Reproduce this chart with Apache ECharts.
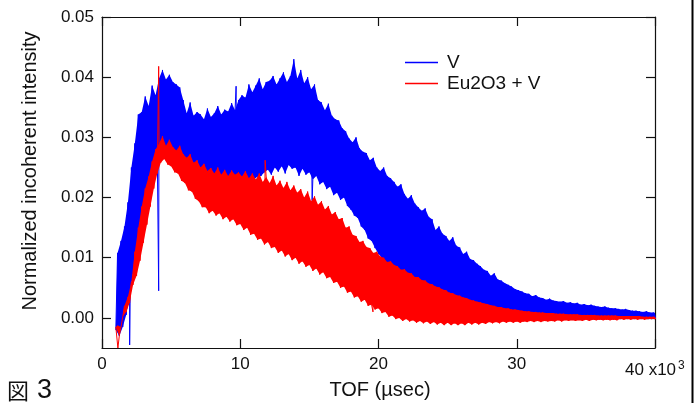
<!DOCTYPE html>
<html><head><meta charset="utf-8">
<script src="https://cdn.jsdelivr.net/npm/echarts@6/dist/echarts.min.js"></script>
<style>html,body{margin:0;padding:0;background:#fff}#c{width:696px;height:403px}</style>
</head><body><div id="c"></div>
<script>
// TOF in units of 10^3 usec; envelope samples every 0.25 (x10^3) starting at 1.0
const xStart = 1.0, xStep = 0.25;
const vUpper = [
0.0108,0.0128,0.0152,0.0192, 0.0250,0.0290,0.0338,0.0342, 0.0368,0.0352,0.0386,0.0370,
0.0398,0.0412,0.0396,0.0404, 0.0392,0.0388,0.0383,0.0362, 0.0340,0.0358,0.0336,0.0342,
0.0338,0.0330,0.0348,0.0334, 0.0340,0.0352,0.0338,0.0346, 0.0343,0.0357,0.0345,0.0362,
0.0370,0.0366,0.0388,0.0375, 0.0386,0.0398,0.0380,0.0392, 0.0394,0.0402,0.0388,0.0398,
0.0408,0.0392,0.0402,0.0430, 0.0398,0.0412,0.0390,0.0400, 0.0380,0.0388,0.0362,0.0358,
0.0345,0.0356,0.0336,0.0330, 0.0328,0.0315,0.0310,0.0298, 0.0292,0.0300,0.0282,0.0276,
0.0274,0.0262,0.0266,0.0250, 0.0244,0.0250,0.0236,0.0232, 0.0226,0.0218,0.0222,0.0206,
0.0198,0.0204,0.0190,0.0184, 0.0178,0.0182,0.0168,0.0164, 0.0146,0.0152,0.0140,0.0136,
0.0128,0.0134,0.0120,0.0117, 0.0106,0.0110,0.0098,0.0096, 0.0090,0.0086,0.0080,0.0078,
0.0070,0.0074,0.0064,0.0062, 0.0058,0.0055,0.0052,0.0048, 0.0046,0.0044,0.0041,0.0040,
0.0036,0.0038,0.0034,0.0033, 0.0030,0.0032,0.0029,0.0028, 0.0027,0.0028,0.0025,0.0026,
0.0024,0.0025,0.0022,0.0023, 0.0021,0.0022,0.0020,0.0019, 0.0018,0.0019,0.0017,0.0016,
0.0016,0.0015,0.0014,0.0015, 0.0013,0.0012,0.0012,0.0011, 0.0010,0.0011,0.0009,0.0009,
0.0008
];
const vLower = [
-0.0020,-0.0030,-0.0015,0.0005, 0.0035,0.0075,0.0120,0.0160, 0.0190,0.0215,0.0235,0.0255,
0.0270,0.0280,0.0278,0.0275, 0.0270,0.0262,0.0260,0.0252, 0.0250,0.0242,0.0240,0.0230,
0.0225,0.0218,0.0222,0.0213, 0.0212,0.0215,0.0206,0.0212, 0.0210,0.0214,0.0206,0.0215,
0.0218,0.0222,0.0218,0.0228, 0.0230,0.0235,0.0236,0.0242, 0.0246,0.0238,0.0250,0.0243,
0.0252,0.0240,0.0254,0.0248, 0.0250,0.0236,0.0248,0.0238, 0.0242,0.0230,0.0236,0.0222,
0.0226,0.0214,0.0218,0.0204, 0.0208,0.0196,0.0200,0.0186, 0.0180,0.0170,0.0166,0.0152,
0.0146,0.0132,0.0128,0.0116, 0.0106,0.0100,0.0092,0.0088, 0.0082,0.0078,0.0072,0.0069,
0.0064,0.0060,0.0056,0.0052, 0.0048,0.0045,0.0042,0.0039, 0.0036,0.0034,0.0031,0.0029,
0.0027,0.0025,0.0023,0.0021, 0.0019,0.0018,0.0016,0.0015, 0.0013,0.0012,0.0011,0.0010,
0.0009,0.0008,0.0007,0.0006, 0.0006,0.0005,0.0005,0.0004, 0.0004,0.0003,0.0003,0.0003,
0.0002,0.0002,0.0002,0.0001, 0.0001,0.0001,0.0001,0.0001, 0.0000,0.0000,0.0000,0.0000,
0.0000,-0.0001,0.0000,-0.0001, -0.0001,-0.0001,-0.0001,-0.0001, -0.0001,-0.0002,-0.0001,-0.0002,
-0.0002,-0.0002,-0.0002,-0.0002, -0.0002,-0.0002,-0.0002,-0.0002, -0.0002,-0.0002,-0.0002,-0.0002,
-0.0002
];
const euUpper = [
-0.0012,-0.0015,0.0020,0.0035, 0.0060,0.0110,0.0150,0.0185, 0.0215,0.0235,0.0260,0.0280,
0.0290,0.0302,0.0286,0.0296, 0.0284,0.0278,0.0286,0.0272, 0.0266,0.0272,0.0258,0.0262,
0.0250,0.0256,0.0244,0.0249, 0.0240,0.0250,0.0238,0.0246, 0.0236,0.0245,0.0238,0.0242,
0.0235,0.0244,0.0232,0.0240, 0.0230,0.0240,0.0226,0.0234, 0.0224,0.0236,0.0220,0.0228,
0.0216,0.0226,0.0212,0.0220, 0.0208,0.0214,0.0200,0.0210, 0.0194,0.0202,0.0188,0.0194,
0.0180,0.0186,0.0172,0.0176, 0.0164,0.0166,0.0150,0.0152, 0.0138,0.0136,0.0126,0.0128,
0.0118,0.0116,0.0108,0.0110, 0.0102,0.0100,0.0093,0.0094, 0.0088,0.0086,0.0080,0.0081,
0.0075,0.0074,0.0068,0.0068, 0.0063,0.0062,0.0057,0.0056, 0.0052,0.0051,0.0047,0.0046,
0.0042,0.0041,0.0038,0.0037, 0.0034,0.0033,0.0030,0.0029, 0.0027,0.0026,0.0024,0.0023,
0.0021,0.0020,0.0018,0.0018, 0.0016,0.0016,0.0014,0.0014, 0.0013,0.0012,0.0011,0.0011,
0.0010,0.0010,0.0009,0.0009, 0.0008,0.0008,0.0008,0.0007, 0.0007,0.0007,0.0006,0.0006,
0.0006,0.0006,0.0005,0.0005, 0.0005,0.0005,0.0005,0.0004, 0.0004,0.0004,0.0004,0.0004,
0.0004,0.0003,0.0003,0.0003, 0.0003,0.0003,0.0003,0.0003, 0.0002,0.0002,0.0002,0.0002,
0.0002
];
const euLower = [
-0.0015,-0.0030,0.0002,0.0010, 0.0025,0.0055,0.0070,0.0095, 0.0125,0.0155,0.0185,0.0215,
0.0240,0.0258,0.0264,0.0255, 0.0252,0.0242,0.0240,0.0228, 0.0224,0.0212,0.0210,0.0198,
0.0194,0.0184,0.0184,0.0174, 0.0178,0.0170,0.0174,0.0164, 0.0168,0.0160,0.0164,0.0154,
0.0156,0.0146,0.0150,0.0138, 0.0140,0.0130,0.0132,0.0122, 0.0126,0.0116,0.0118,0.0108,
0.0112,0.0102,0.0106,0.0096, 0.0100,0.0090,0.0094,0.0085, 0.0088,0.0078,0.0082,0.0072,
0.0076,0.0066,0.0068,0.0058, 0.0060,0.0050,0.0052,0.0042, 0.0044,0.0034,0.0036,0.0027,
0.0030,0.0020,0.0022,0.0014, 0.0016,0.0008,0.0010,0.0002, 0.0004,-0.0002,0.0000,-0.0005,
-0.0002,-0.0006,-0.0004,-0.0008, -0.0005,-0.0009,-0.0006,-0.0010, -0.0007,-0.0011,-0.0008,-0.0012,
-0.0008,-0.0012,-0.0009,-0.0012, -0.0009,-0.0012,-0.0008,-0.0011, -0.0008,-0.0011,-0.0008,-0.0010,
-0.0007,-0.0009,-0.0007,-0.0009, -0.0006,-0.0008,-0.0006,-0.0008, -0.0006,-0.0008,-0.0006,-0.0007,
-0.0005,-0.0007,-0.0005,-0.0007, -0.0005,-0.0006,-0.0005,-0.0006, -0.0004,-0.0006,-0.0004,-0.0005,
-0.0004,-0.0005,-0.0004,-0.0005, -0.0003,-0.0005,-0.0003,-0.0004, -0.0003,-0.0004,-0.0003,-0.0004,
-0.0003,-0.0004,-0.0002,-0.0003, -0.0002,-0.0003,-0.0002,-0.0003, -0.0002,-0.0003,-0.0002,-0.0002,
-0.0002
];
// isolated single-sample spikes [TOF, value]
const vSpikes = [[2.0, -0.0045], [4.1, 0.0045], [9.7, 0.0385], [15.2, 0.0195]];
const euSpikes = [[1.15, -0.005], [4.1, 0.0418], [11.8, 0.0262], [19.6, 0.001]];
const yTicks = [0, 0.01, 0.02, 0.03, 0.04, 0.05];
const xTicks = [0, 10, 20, 30];
const seriesNames = ['V', 'Eu2O3 + V'];
const seriesColors = ['#0000ff', '#ff0000'];

function trace(lower, upper, spikes) {
  const pts = [];
  for (let i = 0; i < lower.length; i++) {
    const x = xStart + i * xStep;
    pts.push([x, lower[i]]);
    pts.push([x + xStep / 2, upper[i]]);
  }
  spikes.forEach(s => pts.push(s));
  pts.sort((a, b) => a[0] - b[0]);
  return pts;
}
function outline(lower, upper) {
  const top = [], bot = [];
  for (let i = 0; i < lower.length; i++) {
    const x = xStart + i * xStep;
    top.push([x + xStep / 2, upper[i]]);
    bot.push([x, lower[i]]);
  }
  return top.concat(bot.reverse());
}
function bandSeries(name, color, poly, z) {
  return {
    name: name + ' band', type: 'custom', silent: true, clip: true, z: z,
    data: [[0, 0]],
    renderItem: (params, api) => ({
      type: 'polygon',
      shape: {points: poly.map(p => api.coord(p))},
      style: {fill: color}
    })
  };
}
function traceSeries(name, color, data, z) {
  return {name: name, type: 'line', showSymbol: false, symbol: 'none', color: color, z: z,
          lineStyle: {width: 1, color: color}, data: data};
}

const FONT = 'Liberation Sans, Arial, Helvetica, sans-serif';
const chart = echarts.init(document.getElementById('c'), null, {renderer: 'canvas'});
const lineStyleAx = {color: '#111', width: 1.2};
function xAx(pos, labels) {
  return {type: 'value', min: 0, max: 40, interval: 10, position: pos,
    axisLine: {show: true, onZero: false, lineStyle: lineStyleAx}, splitLine: {show: false},
    axisTick: {show: true, inside: true, length: 9, lineStyle: lineStyleAx},
    axisLabel: labels ? {customValues: xTicks, margin: 8, fontFamily: FONT, fontSize: 17, color: '#111'} : {show: false}};
}
function yAx(pos, labels) {
  return {type: 'value', min: -0.005, max: 0.05, position: pos,
    axisLine: {show: true, onZero: false, lineStyle: lineStyleAx}, splitLine: {show: false},
    axisTick: {show: true, inside: true, length: 9, customValues: yTicks, lineStyle: lineStyleAx},
    axisLabel: labels ? {customValues: yTicks, margin: 8, fontFamily: FONT, fontSize: 17, color: '#111',
                         formatter: v => v.toFixed(2)} : {show: false}};
}
chart.setOption({
  animation: false,
  backgroundColor: '#fff',
  grid: {left: 102, right: 41, top: 17, bottom: 55, containLabel: false},
  legend: {
    orient: 'vertical', left: 400, top: 47, itemGap: 0,
    icon: 'rect', itemWidth: 33, itemHeight: 1.5,
    textStyle: {fontFamily: FONT, fontSize: 19, color: '#111', lineHeight: 21, height: 21, padding: [0, 0, 0, 4]},
    data: seriesNames
  },
  xAxis: [xAx('bottom', true), xAx('top', false)],
  yAxis: [yAx('left', true), yAx('right', false)],
  series: [
    bandSeries(seriesNames[0], seriesColors[0], outline(vLower, vUpper), 2),
    traceSeries(seriesNames[0], seriesColors[0], trace(vLower, vUpper, vSpikes), 2),
    bandSeries(seriesNames[1], seriesColors[1], outline(euLower, euUpper), 3),
    traceSeries(seriesNames[1], seriesColors[1], trace(euLower, euUpper, euSpikes), 3)
  ],
  graphic: [
    {type: 'text', x: 30, y: 171, rotation: Math.PI / 2,
     style: {text: 'Normalized incoherent intensity', font: '20px ' + FONT, fill: '#111', align: 'center', verticalAlign: 'middle'}},
    {type: 'text', x: 380, y: 390,
     style: {text: 'TOF (µsec)', font: '20px ' + FONT, fill: '#111', align: 'center', verticalAlign: 'middle'}},
    {type: 'text', x: 625, y: 370,
     style: {text: '40 x10', font: '17px ' + FONT, fill: '#111', align: 'left', verticalAlign: 'middle'}},
    {type: 'text', x: 678, y: 366,
     style: {text: '3', font: '12px ' + FONT, fill: '#111', align: 'left', verticalAlign: 'middle'}},
    {type: 'text', x: 7, y: 391,
     style: {text: '図', font: '22px "Noto Sans CJK JP", sans-serif', fill: '#111', align: 'left', verticalAlign: 'middle'}},
    {type: 'text', x: 37, y: 391,
     style: {text: '3', font: '27px ' + FONT, fill: '#111', align: 'left', verticalAlign: 'middle'}},
    {type: 'rect', shape: {x: 691.5, y: 0, width: 2, height: 403}, style: {fill: '#000'}}
  ]
});
</script>
</body></html>
